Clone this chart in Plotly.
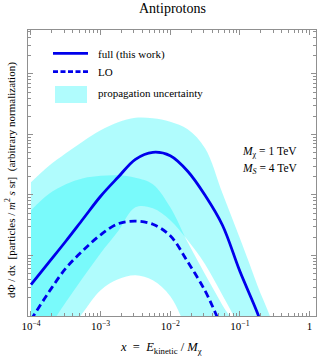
import plotly.graph_objects as go

# ---- data ----
x_grid = [1e-4, 1.78e-4, 3.16e-4, 5.62e-4, 1e-3, 1.78e-3, 3.16e-3, 5.62e-3,
          1e-2, 1.78e-2, 3.16e-2, 5.62e-2, 0.1, 0.178, 0.316]

full_x = [1e-4, 1.78e-4, 3.16e-4, 5.62e-4, 1e-3, 1.78e-3, 3.16e-3, 5.62e-3,
          1e-2, 1.78e-2, 3.16e-2, 5.62e-2, 0.1, 0.178, 0.224]
full_y = [3.30, 7.55, 17.2, 40.5, 95.3, 196, 389, 508, 445, 247, 98.9, 31.6,
          5.48, 1.13, 0.518]

lo_x = [1e-4, 1.78e-4, 3.16e-4, 5.62e-4, 1e-3, 1.78e-3, 3.16e-3, 5.62e-3,
        1e-2, 1.78e-2, 3.16e-2, 4.47e-2, 5.62e-2]
lo_y = [0.865, 2.42, 6.14, 12.2, 22.0, 33.4, 37.1, 32.8, 21.2, 7.87, 2.61,
        1.11, 0.58]

full_band_hi = [162, 298, 489, 773, 1173, 1592, 1888, 1853, 1622, 1219, 591,
                106.7, 19.2, 3.22, 0.518]
full_band_lo = [0.224, 0.626, 1.68, 4.36, 10.9, 25.1, 62.6, 60.3, 38.2, 17.8,
                7.16, 2.20, 0.650, 0.185, 0.0489]

lo_band_x = x_grid[:13]
lo_band_hi = [55.9, 102.7, 150.3, 188.8, 207.6, 211.6, 192.4, 150.3, 62.6,
              16.5, 4.89, 1.50, 0.462]
lo_band_lo = [0.0404, 0.153, 0.445, 1.15, 2.66, 4.04, 4.71, 3.89, 2.12,
              0.536, 0.105, 0.0189, 0.00412]

x_tick_vals = [1e-4, 1e-3, 1e-2, 1e-1, 1]
x_tick_text = ["10<sup>\u22124</sup>", "10<sup>\u22123</sup>",
               "10<sup>\u22122</sup>", "10<sup>\u22121</sup>", "1"]

# ---- style ----
W, H = 319, 358
L, R, T, B = 28, 3, 30, 42
FONT = "Liberation Serif"
BAND = "rgba(0,245,250,0.31)"
BLUE = "rgb(0,0,235)"
FRAME = "#909090"
SM = 1.0


def px(x):
    return (x - L) / (W - L - R)


def py(y):
    return (H - B - y) / (H - T - B)


fig = go.Figure()

fig.add_trace(go.Scatter(
    x=x_grid + x_grid[::-1], y=full_band_hi + full_band_lo[::-1],
    fill="toself", fillcolor=BAND, mode="lines",
    line=dict(width=0, shape="spline", smoothing=SM), hoverinfo="skip"))
fig.add_trace(go.Scatter(
    x=lo_band_x + lo_band_x[::-1], y=lo_band_hi + lo_band_lo[::-1],
    fill="toself", fillcolor=BAND, mode="lines",
    line=dict(width=0, shape="spline", smoothing=SM), hoverinfo="skip"))
fig.add_trace(go.Scatter(
    x=lo_x, y=lo_y, mode="lines",
    line=dict(color=BLUE, width=2.8, dash="7px,4px", shape="spline", smoothing=SM)))
fig.add_trace(go.Scatter(
    x=full_x, y=full_y, mode="lines",
    line=dict(color=BLUE, width=2.8, shape="spline", smoothing=SM)))

axis_common = dict(
    type="log", showgrid=False, zeroline=False,
    showline=True, linecolor=FRAME, linewidth=1, mirror="allticks",
    ticks="inside", ticklen=5, tickcolor=FRAME, tickwidth=1,
    minor=dict(ticks="inside", ticklen=3, tickcolor=FRAME, tickwidth=1,
               dtick="D1", showgrid=False),
)

fig.update_xaxes(**axis_common, range=[-4.043, 0.093],
                 tickmode="array", tickvals=x_tick_vals, ticktext=x_tick_text,
                 tickfont=dict(family=FONT, size=11, color="black"))
fig.update_yaxes(**axis_common, range=[0, 4.727], dtick=1,
                 showticklabels=False)

ann = []
ann.append(dict(text="Antiprotons", x=0.5, y=py(8), xref="paper", yref="paper",
                showarrow=False, xanchor="center", yanchor="middle",
                font=dict(family=FONT, size=14, color="black")))
for txt, yy in [("full (this work)", 54), ("LO", 72), ("propagation uncertainty", 93)]:
    ann.append(dict(text=txt, x=px(96), y=py(yy), xref="paper", yref="paper",
                    showarrow=False, xanchor="left", yanchor="middle",
                    font=dict(family=FONT, size=11, color="black")))
ann.append(dict(text="<i>M</i><sub>\u03c7</sub> = 1 TeV", x=px(240), y=py(152),
                xref="paper", yref="paper", showarrow=False, xanchor="left",
                yanchor="middle", font=dict(family=FONT, size=11.5, color="black")))
ann.append(dict(text="<i>M</i><sub><i>S</i></sub> = 4 TeV", x=px(240), y=py(169),
                xref="paper", yref="paper", showarrow=False, xanchor="left",
                yanchor="middle", font=dict(family=FONT, size=11.5, color="black")))
ann.append(dict(text="<i>x</i>  =  <i>E</i><sub>kinetic</sub> / <i>M</i><sub>\u03c7</sub>",
                x=px(161), y=py(348), xref="paper", yref="paper", showarrow=False,
                xanchor="center", yanchor="middle",
                font=dict(family=FONT, size=12.5, color="black")))
ann.append(dict(text="d\u03a6 / dx  [particles / <i>m</i><sup>2</sup> <i>s</i> sr]  (arbitrary normalization)",
                x=px(10), y=py(180), xref="paper", yref="paper", showarrow=False,
                xanchor="center", yanchor="middle", textangle=-90,
                font=dict(family=FONT, size=11, color="black")))

shapes = [
    dict(type="line", xref="paper", yref="paper", x0=px(53), x1=px(88),
         y0=py(53.3), y1=py(53.3), line=dict(color=BLUE, width=2.8)),
    dict(type="line", xref="paper", yref="paper", x0=px(53), x1=px(88),
         y0=py(71.7), y1=py(71.7), line=dict(color=BLUE, width=2.8, dash="5px,2.5px")),
    dict(type="rect", xref="paper", yref="paper", x0=px(55), x1=px(87),
         y0=py(103), y1=py(86), line=dict(width=0), fillcolor=BAND),
]

fig.update_layout(
    width=W, height=H, margin=dict(l=L, r=R, t=T, b=B),
    paper_bgcolor="white", plot_bgcolor="white", showlegend=False,
    annotations=ann, shapes=shapes,
)

fig.write_html("out.html", config={"displayModeBar": False},
               post_script="document.body.style.margin='0';document.body.style.overflow='hidden';")
